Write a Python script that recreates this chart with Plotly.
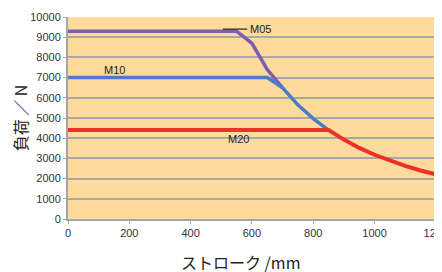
import plotly.graph_objects as go

# Data
stroke_m05 = [0, 550, 600, 650, 700]
load_m05 = [9300, 9300, 8700, 7400, 6490]

stroke_m10 = [0, 650, 700, 750, 800, 850]
load_m10 = [7000, 7000, 6490, 5650, 4970, 4400]

stroke_m20 = [0, 850, 900, 950, 1000, 1050, 1100, 1150, 1200]
load_m20 = [4400, 4400, 3930, 3520, 3180, 2880, 2630, 2400, 2210]

x_ticks = [0, 200, 400, 600, 800, 1000, 1200]
x_labels = ["0", "200", "400", "600", "800", "1000", "1200"]
y_ticks = [0, 1000, 2000, 3000, 4000, 5000, 6000, 7000, 8000, 9000, 10000]
y_labels = ["0", "1000", "2000", "3000", "4000", "5000", "6000", "7000", "8000", "9000", "10000"]

fig = go.Figure()
fig.add_trace(go.Scatter(x=stroke_m05, y=load_m05, mode="lines",
                         line=dict(color="#7B5FAE", width=3.5), name="M05"))
fig.add_trace(go.Scatter(x=stroke_m10, y=load_m10, mode="lines",
                         line=dict(color="#4A7DC6", width=3.5), name="M10"))
fig.add_trace(go.Scatter(x=stroke_m20, y=load_m20, mode="lines",
                         line=dict(color="#EC3228", width=4), name="M20"))

tick_font = dict(family="Liberation Sans, Arial, sans-serif", size=11, color="#333333")

fig.update_layout(
    width=442, height=272,
    margin=dict(l=60, r=14, t=9, b=61, autoexpand=False),
    paper_bgcolor="white",
    plot_bgcolor="#FFDA9D",
    showlegend=False,
    xaxis=dict(range=[0, 1200.5], tickvals=x_ticks, ticktext=x_labels, automargin=False,
               showgrid=False, zeroline=False,
               showline=True, linecolor="#A6A6A6", linewidth=2,
               ticks="outside", ticklen=3, tickcolor="#A6A6A6", tickwidth=1,
               tickfont=tick_font),
    yaxis=dict(range=[0, 10000], tickvals=y_ticks, ticktext=y_labels, automargin=False,
               showgrid=True, gridcolor="#A8A8A8", gridwidth=2,
               zeroline=False, showline=True, linecolor="#A6A6A6", linewidth=2,
               ticks="outside", ticklen=3, tickcolor="#A6A6A6", tickwidth=1,
               tickfont=tick_font,
               title=dict(text="負荷 ／ N", standoff=2,
                          font=dict(family="Noto Sans CJK JP, sans-serif", size=16, color="#222222"))),
)

fig.add_annotation(x=0.47, y=-0.212, xref="paper", yref="paper", yanchor="middle",
                   text="ストローク /mm", showarrow=False,
                   font=dict(family="Noto Sans CJK JP, sans-serif", size=16, color="#222222"))

ann_font = dict(family="Liberation Sans, Arial, sans-serif", size=11, color="#222222")
fig.add_shape(type="line", x0=505, x1=585, y0=9400, y1=9400, xref="x", yref="y",
              line=dict(color="black", width=1))
fig.add_annotation(x=587, y=9420, text="M05", showarrow=False, xanchor="left", font=ann_font)
fig.add_annotation(x=152, y=7400, text="M10", showarrow=False, font=ann_font)
fig.add_annotation(x=555, y=3960, text="M20", showarrow=False, font=ann_font)

fig.write_html("out.html")
